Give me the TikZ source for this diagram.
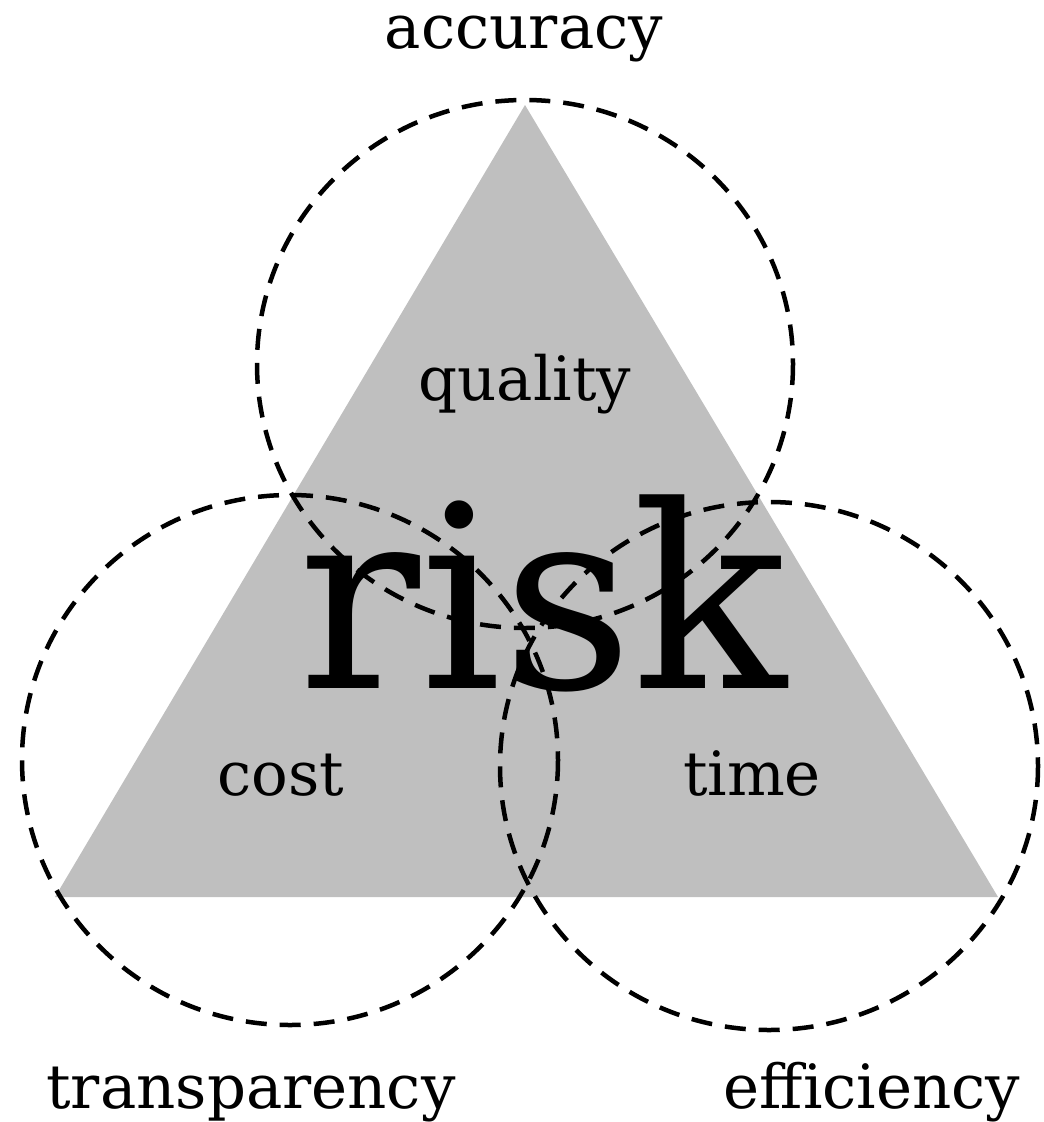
\documentclass[tikz,border=0pt]{standalone}
\usepackage{fontspec}
\setmainfont{DejaVu Serif}
\begin{document}
\begin{tikzpicture}[x=1pt,y=-1pt,
  ring/.style={draw=black,line width=4.5pt,dash pattern=on 21pt off 13pt},
  lbl/.style={font=\fontsize{61}{61}\selectfont,anchor=base,inner sep=0pt},
  big/.style={font=\fontsize{255}{255}\selectfont,anchor=base,inner sep=0pt}]
\definecolor{tri}{HTML}{BFBFBF}
\useasboundingbox (0,0) rectangle (1044,1122);
\coordinate (A) at (525,105);
\coordinate (B) at (55,897);
\coordinate (C) at (998,897);
\fill[tri] (A) -- (B) -- (C) -- cycle;
\draw[ring] (525,364) ellipse [x radius=268, y radius=264];
\draw[ring] (290,760) ellipse [x radius=268, y radius=265];
\draw[ring] (769,766) ellipse [x radius=269, y radius=264];
\node[big] (risk) at (543,688) {risk};
\node[lbl] (acc) at (524,48) {accuracy};
\node[lbl] (qual) at (525,400) {quality};
\node[lbl] (cost) at (281,795) {cost};
\node[lbl] (time) at (752,795) {time};
\node[lbl] (trans) at (251,1108) {transparency};
\node[lbl] (eff) at (872,1108) {efficiency};
\end{tikzpicture}
\end{document}
